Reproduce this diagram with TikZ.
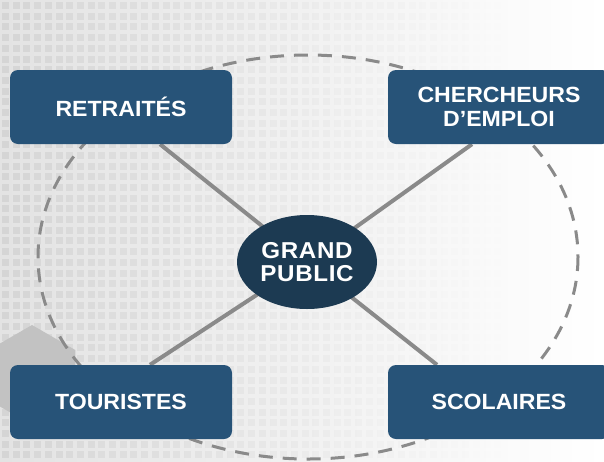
\documentclass[tikz,border=0pt]{standalone}
\usepackage{fontspec}
\usetikzlibrary{shapes.geometric,backgrounds}
\newfontfamily\boxfont{Liberation Sans}[FakeStretch=1.05]
\newfontfamily\gpfont{Liberation Sans}[FakeStretch=1.05,LetterSpace=3]
\definecolor{boxblue}{HTML}{275378}
\definecolor{gpblue}{HTML}{1C3A52}
\definecolor{linegray}{HTML}{8A8A8A}
\definecolor{hexgray}{HTML}{C2C2C2}
\pgfdeclarelayer{bgzero}
\pgfsetlayers{bgzero,background,main}
\tikzset{
  group/.style={rectangle, rounded corners=8pt, fill=boxblue, text=white,
    minimum width=222pt, minimum height=74pt, inner sep=0pt, align=center,
    font=\boxfont\bfseries\fontsize{22}{24.3}\selectfont},
  center/.style={ellipse, fill=gpblue, text=white, minimum width=140pt,
    minimum height=94pt, inner sep=0pt, align=center,
    font=\gpfont\bfseries\fontsize{23}{22.5}\selectfont},
  link/.style={draw=linegray, line width=4pt},
  orbit/.style={draw=linegray, line width=3pt, dash pattern=on 14pt off 10pt}
}
\begin{document}
\begin{tikzpicture}[x=1pt,y=-1pt]
\useasboundingbox (0,0) rectangle (604,461);
\clip (0,0) rectangle (604,461);
\begin{pgfonlayer}{bgzero}
% background
\shade[left color=black!11, right color=white] (0,0) rectangle (604,461);
\foreach \i in {0,...,56}{
  \foreach \j in {0,...,43}{
    \pgfmathsetmacro\op{max(0,0.06*(1-\i/48))}
    \fill[black, opacity=\op] (\i*10.7+2,\j*10.7+2) rectangle ++(7,7);
  }
}
% hexagon
\fill[hexgray] (32,325) -- (75.3,350) -- (75.3,400) -- (32,425) -- (-11.3,400) -- (-11.3,350) -- cycle;
% dashed orbit
\draw[orbit] (308,257) ellipse [x radius=270, y radius=202];
\end{pgfonlayer}
% groups
\node[group] (ret) at (121,107) {RETRAITÉS};
\node[group] (cher) at (499,107) {CHERCHEURS\\D’EMPLOI};
\node[group] (tour) at (121,402) {TOURISTES};
\node[group] (scol) at (499,402) {SCOLAIRES};
\node[center] (gp) at (307,262) {GRAND\\PUBLIC};
\begin{pgfonlayer}{background}
\draw[link] ([xshift=39pt]ret.south) -- (gp.center);
\draw[link] ([xshift=-27pt]cher.south) -- (gp.center);
\draw[link] ([xshift=29pt]tour.north) -- (gp.center);
\draw[link] ([xshift=-62pt]scol.north) -- (gp.center);
\end{pgfonlayer}
\end{tikzpicture}
\end{document}
